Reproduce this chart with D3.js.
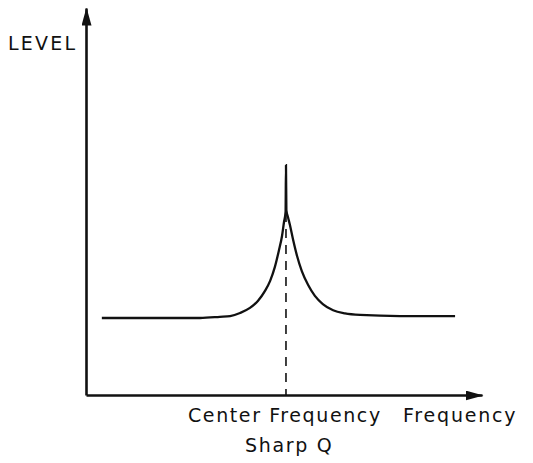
<!DOCTYPE html>
<html>
<head>
<meta charset="utf-8">
<script src="https://cdn.jsdelivr.net/npm/d3@7"></script>
<style>
  body { margin: 0; background: #fff; }
  text { font-family: "DejaVu Sans", sans-serif; fill: #111; }
</style>
</head>
<body>
<svg id="chart" width="533" height="463"></svg>
<script>
// response curve (arbitrary units 0..100)
var freq  = [4.0, 28.8, 33.8, 36.4, 38.9, 41.4, 43.4, 45.2, 46.5, 47.7, 48.7, 49.5, 50.0, 50.4,
             50.5,
             50.6, 51.0, 51.5, 52.3, 53.3, 54.5, 56.1, 57.8, 59.8, 62.4, 65.4, 69.2, 79.3, 93.2];
var level = [19.9, 19.9, 20.2, 20.4, 21.2, 22.5, 24.3, 26.9, 29.5, 33.1, 37.3, 41.1, 44.7, 47.3,
             59.4,
             47.8, 46.0, 43.9, 40.1, 35.9, 32.0, 28.4, 25.6, 23.5, 21.9, 21.1, 20.7, 20.4, 20.4];

var centerFreq = 50.5;
var peakLevel = 59.4;

var yLabel = "LEVEL";
var xLabel = "Frequency";
var centerLabel = ["Center Frequency", "Sharp Q"];

var svg = d3.select("#chart");

var x = d3.scaleLinear().domain([0, 100]).range([86, 482]);
var y = d3.scaleLinear().domain([0, 100]).range([395, 8]);

// arrowheads
var defs = svg.append("defs");
defs.append("marker")
    .attr("id", "arrow")
    .attr("viewBox", "0 0 18 10")
    .attr("refX", 17).attr("refY", 5)
    .attr("markerWidth", 18).attr("markerHeight", 10)
    .attr("markerUnits", "userSpaceOnUse")
    .attr("orient", "auto")
  .append("path")
    .attr("d", "M0,0 L18,5 L0,10 Z")
    .attr("fill", "#111");

// axes (no ticks, just the lines)
var xAxis = svg.append("g")
    .attr("transform", "translate(0," + y(0) + ")")
    .call(d3.axisBottom(x).tickValues([]).tickSizeOuter(0));
var yAxis = svg.append("g")
    .attr("transform", "translate(" + x(0) + ",0)")
    .call(d3.axisLeft(y).tickValues([]).tickSizeOuter(0));

[xAxis, yAxis].forEach(function(a) {
  a.select(".domain")
    .attr("stroke", "#111")
    .attr("stroke-width", 2.6)
    .attr("marker-end", "url(#arrow)");
});

// dashed line at the center frequency
svg.append("line")
    .attr("x1", x(centerFreq)).attr("x2", x(centerFreq))
    .attr("y1", y(peakLevel)).attr("y2", y(0))
    .attr("stroke", "#111")
    .attr("stroke-width", 1.6)
    .attr("stroke-dasharray", "9,7");

// the response curve
var line = d3.line()
    .x(function(d, i) { return x(freq[i]); })
    .y(function(d, i) { return y(level[i]); })
    .curve(d3.curveMonotoneX);

svg.append("path")
    .datum(freq)
    .attr("d", line)
    .attr("fill", "none")
    .attr("stroke", "#111")
    .attr("stroke-width", 2.3);

// labels
svg.append("text")
    .attr("x", 8).attr("y", 50)
    .attr("font-size", 19)
    .attr("letter-spacing", 2.2)
    .text(yLabel);

svg.append("text")
    .attr("x", 403).attr("y", 422)
    .attr("font-size", 19)
    .attr("letter-spacing", 1.8)
    .text(xLabel);

svg.append("text")
    .attr("x", 188).attr("y", 422)
    .attr("font-size", 19)
    .attr("letter-spacing", 1.6)
    .text(centerLabel[0]);

svg.append("text")
    .attr("x", 245).attr("y", 452)
    .attr("font-size", 19)
    .attr("letter-spacing", 1.7)
    .text(centerLabel[1]);
</script>
</body>
</html>
